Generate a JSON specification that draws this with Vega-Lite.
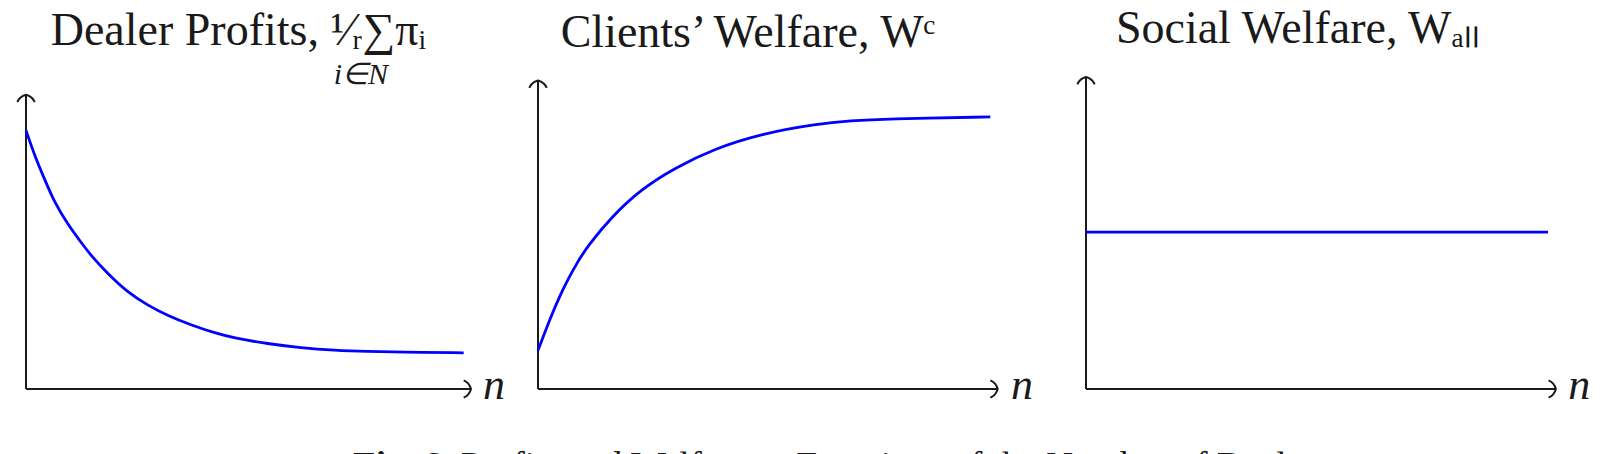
{
  "$schema": "https://vega.github.io/schema/vega-lite/v6.json",
  "background": "white",
  "padding": {"left": 13, "top": 6, "right": 0, "bottom": 0},
  "bounds": "flush",
  "spacing": 0,
  "config": {
    "view": {"stroke": null},
    "title": {
      "font": "Liberation Serif",
      "fontSize": 46,
      "fontWeight": "normal",
      "color": "#1a1a1a",
      "frame": "group"
    }
  },
  "datasets": {
    "curves": [
      {"panel": "profits", "x": 0, "y": 8.29},
      {"panel": "profits", "x": 0.195, "y": 7.51},
      {"panel": "profits", "x": 0.43, "y": 6.74},
      {"panel": "profits", "x": 0.664, "y": 5.99},
      {"panel": "profits", "x": 0.977, "y": 5.28},
      {"panel": "profits", "x": 1.289, "y": 4.70},
      {"panel": "profits", "x": 1.523, "y": 4.28},
      {"panel": "profits", "x": 1.914, "y": 3.70},
      {"panel": "profits", "x": 2.383, "y": 3.10},
      {"panel": "profits", "x": 2.852, "y": 2.68},
      {"panel": "profits", "x": 3.321, "y": 2.35},
      {"panel": "profits", "x": 3.867, "y": 2.05},
      {"panel": "profits", "x": 4.413, "y": 1.80},
      {"panel": "profits", "x": 4.883, "y": 1.63},
      {"panel": "profits", "x": 5.665, "y": 1.45},
      {"panel": "profits", "x": 6.445, "y": 1.32},
      {"panel": "profits", "x": 7.226, "y": 1.24},
      {"panel": "profits", "x": 8.008, "y": 1.20},
      {"panel": "profits", "x": 8.789, "y": 1.18},
      {"panel": "profits", "x": 10.258, "y": 1.16},
      {"panel": "clients", "x": 0, "y": 1.24},
      {"panel": "clients", "x": 0.285, "y": 2.33},
      {"panel": "clients", "x": 0.467, "y": 2.95},
      {"panel": "clients", "x": 0.65, "y": 3.50},
      {"panel": "clients", "x": 0.869, "y": 4.08},
      {"panel": "clients", "x": 1.088, "y": 4.58},
      {"panel": "clients", "x": 1.599, "y": 5.50},
      {"panel": "clients", "x": 2.255, "y": 6.40},
      {"panel": "clients", "x": 2.985, "y": 7.08},
      {"panel": "clients", "x": 3.86, "y": 7.70},
      {"panel": "clients", "x": 4.883, "y": 8.18},
      {"panel": "clients", "x": 6.124, "y": 8.50},
      {"panel": "clients", "x": 6.854, "y": 8.60},
      {"panel": "clients", "x": 7.583, "y": 8.66},
      {"panel": "clients", "x": 9.904, "y": 8.72},
      {"panel": "social", "x": 0, "y": 5.03},
      {"panel": "social", "x": 10.54, "y": 5.03}
    ],
    "axes": [
      {"panel": "profits", "x": 0, "y": 0, "x2": 10.43, "y2": 0},
      {"panel": "profits", "x": 0, "y": 0, "x2": 0, "y2": 9.43},
      {"panel": "clients", "x": 0, "y": 0, "x2": 10.066, "y2": 0},
      {"panel": "clients", "x": 0, "y": 0, "x2": 0, "y2": 9.89},
      {"panel": "social", "x": 0, "y": 0, "x2": 10.72, "y2": 0},
      {"panel": "social", "x": 0, "y": 0, "x2": 0, "y2": 10.0}
    ],
    "tips": [
      {"panel": "profits", "dir": "up", "x": 0, "y": 9.43},
      {"panel": "profits", "dir": "right", "x": 10.43, "y": 0},
      {"panel": "clients", "dir": "up", "x": 0, "y": 9.89},
      {"panel": "clients", "dir": "right", "x": 10.066, "y": 0},
      {"panel": "social", "dir": "up", "x": 0, "y": 10.0},
      {"panel": "social", "dir": "right", "x": 10.72, "y": 0}
    ],
    "labels": [
      {"panel": "profits", "kind": "axis", "label": "n", "x": 10.71, "y": -0.32},
      {"panel": "profits", "kind": "index", "label": "i∈N", "x": 7.85, "y": 9.78},
      {"panel": "clients", "kind": "axis", "label": "n", "x": 10.36, "y": -0.32},
      {"panel": "social", "kind": "axis", "label": "n", "x": 11.0, "y": -0.32}
    ],
    "caption": [
      {"part": "bold", "label": "Fig. 6.", "x": -4.05, "y": -2.84},
      {"part": "rest", "label": "Profits and Welfare as Functions of the Number of Dealers", "x": -1.686, "y": -2.84}
    ]
  },
  "hconcat": [
    {
      "width": 512,
      "height": 312,
      "title": {
        "text": "Dealer Profits, ¹⁄ᵣ∑πᵢ",
        "anchor": "end",
        "dx": -112,
        "offset": 5
      },
      "encoding": {
        "x": {"field": "x", "type": "quantitative", "scale": {"domain": [0, 12], "nice": false, "zero": false}, "axis": null},
        "y": {"field": "y", "type": "quantitative", "scale": {"domain": [0, 10], "nice": false, "zero": false}, "axis": null}
      },
      "layer": [
        {
          "data": {"name": "axes"},
          "transform": [{"filter": "datum.panel == 'profits'"}],
          "mark": {"type": "rule", "color": "#1a1a1a", "strokeWidth": 2},
          "encoding": {"x2": {"field": "x2"}, "y2": {"field": "y2"}}
        },
        {
          "data": {"name": "tips"},
          "transform": [{"filter": "datum.panel == 'profits'"}],
          "mark": {"type": "point", "filled": false, "color": "#1a1a1a", "strokeWidth": 2, "size": 300, "opacity": 1},
          "encoding": {
            "shape": {"field": "dir", "type": "nominal", "legend": null,
              "scale": {"domain": ["up", "right"], "range": ["M-1,0.85Q-0.75,0.2 0,0Q0.75,0.2 1,0.85", "M-0.85,-1Q-0.2,-0.75 0,0Q-0.2,0.75 -0.85,1"]}}
          }
        },
        {
          "data": {"name": "curves"},
          "transform": [{"filter": "datum.panel == 'profits'"}],
          "mark": {"type": "line", "color": "#0000ff", "strokeWidth": 2.8, "interpolate": "basis"},
          "encoding": {}
        },
        {
          "data": {"name": "labels"},
          "transform": [{"filter": "datum.panel == 'profits' && datum.kind == 'axis'"}],
          "mark": {"type": "text", "font": "Liberation Serif", "fontStyle": "italic", "fontSize": 44, "align": "left", "baseline": "alphabetic", "color": "#1a1a1a"},
          "encoding": {"text": {"field": "label"}}
        },
        {
          "data": {"name": "labels"},
          "transform": [{"filter": "datum.panel == 'profits' && datum.kind == 'index'"}],
          "mark": {"type": "text", "font": "Liberation Serif", "fontStyle": "italic", "fontSize": 30, "align": "center", "baseline": "alphabetic", "color": "#1a1a1a"},
          "encoding": {"text": {"field": "label"}}
        }
      ]
    },
    {
      "width": 548,
      "height": 312,
      "title": {
        "text": "Clients’ Welfare, Wᶜ",
        "anchor": "middle",
        "dx": -64,
        "offset": 19
      },
      "encoding": {
        "x": {"field": "x", "type": "quantitative", "scale": {"domain": [0, 12], "nice": false, "zero": false}, "axis": null},
        "y": {"field": "y", "type": "quantitative", "scale": {"domain": [0, 10], "nice": false, "zero": false}, "axis": null}
      },
      "layer": [
        {
          "data": {"name": "axes"},
          "transform": [{"filter": "datum.panel == 'clients'"}],
          "mark": {"type": "rule", "color": "#1a1a1a", "strokeWidth": 2},
          "encoding": {"x2": {"field": "x2"}, "y2": {"field": "y2"}}
        },
        {
          "data": {"name": "tips"},
          "transform": [{"filter": "datum.panel == 'clients'"}],
          "mark": {"type": "point", "filled": false, "color": "#1a1a1a", "strokeWidth": 2, "size": 300, "opacity": 1},
          "encoding": {
            "shape": {"field": "dir", "type": "nominal", "legend": null,
              "scale": {"domain": ["up", "right"], "range": ["M-1,0.85Q-0.75,0.2 0,0Q0.75,0.2 1,0.85", "M-0.85,-1Q-0.2,-0.75 0,0Q-0.2,0.75 -0.85,1"]}}
          }
        },
        {
          "data": {"name": "curves"},
          "transform": [{"filter": "datum.panel == 'clients'"}],
          "mark": {"type": "line", "color": "#0000ff", "strokeWidth": 2.8, "interpolate": "basis"},
          "encoding": {}
        },
        {
          "data": {"name": "labels"},
          "transform": [{"filter": "datum.panel == 'clients'"}],
          "mark": {"type": "text", "font": "Liberation Serif", "fontStyle": "italic", "fontSize": 44, "align": "left", "baseline": "alphabetic", "color": "#1a1a1a"},
          "encoding": {"text": {"field": "label"}}
        },
        {
          "data": {"name": "caption"},
          "transform": [{"filter": "datum.part == 'bold'"}],
          "mark": {"type": "text", "font": "Liberation Serif", "fontWeight": "bold", "fontSize": 37, "align": "left", "baseline": "alphabetic", "color": "#1a1a1a"},
          "encoding": {"text": {"field": "label"}}
        },
        {
          "data": {"name": "caption"},
          "transform": [{"filter": "datum.part == 'rest'"}],
          "mark": {"type": "text", "font": "Liberation Serif", "fontSize": 37, "align": "left", "baseline": "alphabetic", "color": "#1a1a1a"},
          "encoding": {"text": {"field": "label"}}
        }
      ]
    },
    {
      "width": 526,
      "height": 312,
      "title": {
        "text": "Social Welfare, Wₐₗₗ",
        "anchor": "middle",
        "dx": -51,
        "offset": 20
      },
      "encoding": {
        "x": {"field": "x", "type": "quantitative", "scale": {"domain": [0, 12], "nice": false, "zero": false}, "axis": null},
        "y": {"field": "y", "type": "quantitative", "scale": {"domain": [0, 10], "nice": false, "zero": false}, "axis": null}
      },
      "layer": [
        {
          "data": {"name": "axes"},
          "transform": [{"filter": "datum.panel == 'social'"}],
          "mark": {"type": "rule", "color": "#1a1a1a", "strokeWidth": 2},
          "encoding": {"x2": {"field": "x2"}, "y2": {"field": "y2"}}
        },
        {
          "data": {"name": "tips"},
          "transform": [{"filter": "datum.panel == 'social'"}],
          "mark": {"type": "point", "filled": false, "color": "#1a1a1a", "strokeWidth": 2, "size": 300, "opacity": 1},
          "encoding": {
            "shape": {"field": "dir", "type": "nominal", "legend": null,
              "scale": {"domain": ["up", "right"], "range": ["M-1,0.85Q-0.75,0.2 0,0Q0.75,0.2 1,0.85", "M-0.85,-1Q-0.2,-0.75 0,0Q-0.2,0.75 -0.85,1"]}}
          }
        },
        {
          "data": {"name": "curves"},
          "transform": [{"filter": "datum.panel == 'social'"}],
          "mark": {"type": "line", "color": "#0000ff", "strokeWidth": 2.8},
          "encoding": {}
        },
        {
          "data": {"name": "labels"},
          "transform": [{"filter": "datum.panel == 'social'"}],
          "mark": {"type": "text", "font": "Liberation Serif", "fontStyle": "italic", "fontSize": 44, "align": "left", "baseline": "alphabetic", "color": "#1a1a1a"},
          "encoding": {"text": {"field": "label"}}
        }
      ]
    }
  ]
}
